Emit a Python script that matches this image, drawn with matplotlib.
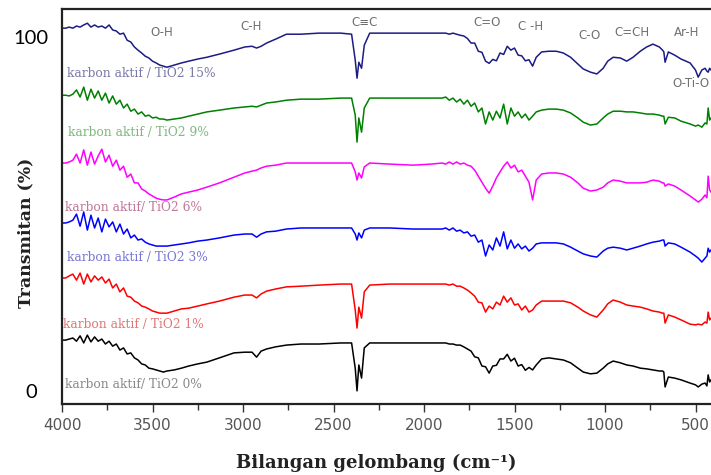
import matplotlib
matplotlib.use("Agg")
import matplotlib.pyplot as plt
from matplotlib.ticker import MultipleLocator
from matplotlib.transforms import blended_transform_factory

# ---------------- data ----------------
wavenumber = [4000, 3980, 3960, 3940, 3920, 3900, 3880, 3860, 3840, 3820, 3800, 3780, 3760, 3740,
              3720, 3700, 3680, 3660, 3640, 3620, 3600, 3580, 3560, 3540, 3520, 3500, 3480, 3460, 3440,
              3420, 3380, 3340, 3300, 3250, 3200, 3130, 3050, 2990, 2950, 2925, 2900, 2870, 2820, 2760,
              2680, 2580, 2460, 2400, 2380, 2370, 2360, 2345, 2330, 2300, 2190, 2060, 1960, 1900,
              1880, 1860, 1840, 1820, 1800, 1780, 1760, 1740, 1720, 1700, 1680, 1660, 1640, 1620, 1600,
              1580, 1560, 1540, 1520, 1500, 1480, 1460, 1440, 1420, 1400,
              1380, 1350, 1310, 1270, 1230, 1190, 1150, 1120, 1080, 1045, 1010, 985, 955, 915, 880, 845,
              805, 770, 735, 700, 682, 675, 668, 650, 615, 580, 530, 500, 485, 465, 447, 437, 430, 422, 414]

t_15 = [102.8, 102.8, 103.1, 102.8, 103.4, 103.1, 103.7, 104.2, 103.1, 103.7, 103.1, 103.4, 102.8, 103.7,
        102.3, 102.0, 101.1, 101.4, 99.4, 98.9, 97.5, 96.6, 95.8, 94.9, 94.4, 93.5, 93.0, 92.4, 92.1,
        91.8, 92.4, 93.0, 93.5, 94.1, 94.6, 95.5, 96.6, 97.5, 97.7, 97.2, 97.7, 98.6, 99.7, 101.1,
        101.1, 101.4, 101.4, 101.1, 93.8, 88.7, 93.2, 91.5, 98.0, 101.4, 101.4, 101.4, 101.4, 101.4,
        101.4, 101.1, 101.4, 101.1, 100.8, 100.6, 99.9, 98.6, 98.6, 96.3, 96.0, 93.5, 92.9, 94.0, 93.6,
        95.8, 95.4, 97.7, 96.6, 97.2, 95.2, 95.0, 93.6, 93.9, 92.1,
        94.6, 96.1, 96.3, 96.3, 95.8, 94.6, 92.7, 91.3, 90.4, 89.9, 91.5, 93.5, 94.6, 94.4, 93.5, 94.6,
        96.3, 97.5, 98.3, 97.5, 96.6, 96.1, 93.2, 96.1, 95.2, 94.1, 93.0, 91.0, 89.0, 91.0, 91.5, 90.7, 90.4, 91.5, 91.0]

t_9 = [83.9, 83.9, 83.7, 84.2, 85.4, 83.4, 86.2, 82.5, 85.6, 83.1, 85.1, 82.5, 84.5, 81.7,
       83.7, 81.4, 82.5, 80.3, 81.4, 79.4, 80.0, 78.6, 79.2, 78.0, 78.3, 77.5, 77.7, 77.2, 77.2,
       76.9, 77.2, 77.5, 78.0, 78.6, 79.2, 79.7, 80.3, 80.6, 80.8, 80.6, 81.1, 81.7, 82.0, 82.5,
       82.8, 82.8, 83.1, 83.1, 78.3, 70.7, 77.5, 73.5, 80.3, 83.1, 83.1, 83.1, 83.1, 83.1,
       83.4, 82.5, 83.1, 82.0, 82.8, 81.4, 82.5, 80.8, 81.7, 79.2, 80.3, 75.8, 79.2, 76.9, 79.4,
       77.5, 81.4, 75.8, 80.3, 78.0, 79.2, 77.5, 78.6, 76.9, 78.0,
       79.2, 79.7, 80.0, 80.0, 79.7, 78.9, 77.5, 76.3, 75.5, 75.8, 77.5, 78.6, 79.4, 79.4, 79.2, 79.2,
       78.9, 78.6, 78.6, 78.3, 78.0, 78.0, 75.8, 77.7, 77.5, 76.6, 75.8, 75.2, 75.5, 74.9, 76.1, 75.8, 80.3, 76.9, 77.5]

t_6 = [64.8, 64.8, 65.1, 65.6, 67.3, 64.8, 68.5, 64.2, 67.9, 64.5, 66.8, 68.7, 65.1, 67.0,
       63.9, 65.6, 62.8, 63.9, 60.8, 61.7, 59.2, 59.2, 57.5, 56.9, 56.1, 55.5, 54.9, 54.6, 54.4,
       54.4, 55.2, 56.1, 56.6, 57.2, 58.0, 59.2, 60.8, 62.0, 62.5, 62.8, 63.4, 63.9, 64.2, 64.8,
       64.8, 64.8, 64.8, 64.8, 62.3, 60.0, 62.0, 60.6, 63.7, 64.8, 64.5, 64.2, 64.5, 64.8,
       64.5, 65.1, 64.5, 65.1, 64.5, 64.8, 64.2, 63.9, 62.8, 61.1, 59.4, 57.7, 56.3, 58.3, 60.6,
       62.3, 63.9, 65.1, 63.4, 64.2, 62.3, 62.8, 61.1, 59.4, 54.4,
       60.0, 61.7, 62.0, 62.0, 61.7, 60.8, 59.2, 57.7, 56.9, 57.2, 58.0, 59.2, 60.0, 59.7, 59.2, 59.2,
       59.2, 59.4, 60.0, 59.7, 59.2, 59.2, 58.3, 58.9, 58.3, 57.2, 55.5, 54.4, 53.8, 54.6, 55.8, 55.0, 61.1, 57.2, 56.6]

t_3 = [47.9, 47.9, 48.2, 48.7, 50.4, 47.0, 51.0, 45.9, 50.1, 46.5, 49.3, 45.4, 49.0, 46.8,
       48.2, 45.4, 47.6, 44.8, 46.2, 43.7, 44.5, 43.1, 43.4, 42.5, 42.0, 41.7, 41.4, 41.4, 41.4,
       41.4, 41.7, 42.0, 42.3, 42.8, 43.1, 43.7, 44.5, 44.8, 44.8, 43.9, 44.8, 45.4, 45.6, 46.2,
       46.5, 46.5, 46.5, 46.5, 44.8, 43.1, 45.1, 43.7, 45.9, 46.5, 46.5, 46.2, 46.2, 46.2,
       46.5, 45.9, 46.5, 45.6, 45.9, 45.1, 45.4, 44.2, 44.5, 42.5, 43.1, 38.6, 41.7, 40.3, 43.7,
       41.4, 45.4, 40.6, 43.1, 40.8, 42.0, 40.6, 41.4, 40.0, 40.8,
       42.0, 42.3, 42.3, 42.3, 42.0, 41.1, 40.0, 39.2, 38.6, 38.3, 40.0, 40.8, 41.1, 40.8, 40.3, 40.8,
       41.4, 42.0, 42.5, 42.8, 43.1, 43.1, 41.4, 42.3, 42.0, 41.1, 39.7, 38.6, 38.0, 36.9, 38.0, 38.6, 40.8, 39.7, 40.3]

t_1 = [32.4, 32.4, 33.0, 33.5, 31.8, 33.8, 30.7, 33.5, 31.3, 33.0, 31.8, 32.7, 31.0, 32.1,
       29.6, 30.7, 28.5, 29.6, 27.3, 27.0, 25.9, 25.4, 24.5, 24.2, 23.7, 23.1, 22.8, 22.5, 22.5,
       22.5, 23.1, 23.7, 23.9, 24.5, 25.1, 25.9, 27.0, 27.6, 27.6, 26.8, 27.9, 28.7, 29.3, 29.9,
       30.1, 30.4, 30.7, 30.7, 23.4, 18.3, 24.2, 21.1, 28.5, 30.4, 30.7, 30.7, 30.7, 30.7,
       30.7, 30.4, 30.7, 30.1, 30.1, 29.6, 29.0, 28.2, 27.3, 25.6, 25.4, 22.8, 24.5, 23.7, 25.6,
       24.8, 27.3, 25.6, 26.8, 24.8, 25.1, 23.4, 24.5, 22.8, 23.4,
       24.8, 25.9, 25.9, 25.9, 25.9, 25.4, 24.2, 23.1, 22.0, 21.4, 23.4, 25.1, 26.2, 25.6, 24.8, 24.5,
       24.2, 23.7, 23.1, 22.8, 22.5, 22.5, 19.7, 22.0, 21.4, 20.6, 19.4, 19.2, 19.4, 19.2, 20.0, 19.7, 22.8, 20.6, 21.1]

t_0 = [14.9, 14.9, 15.2, 15.5, 14.6, 16.1, 14.1, 16.3, 14.4, 15.8, 14.6, 15.2, 13.8, 14.6,
       13.2, 13.8, 12.1, 12.7, 11.0, 11.3, 9.9, 9.3, 8.2, 7.9, 7.0, 6.8, 6.5, 6.2, 5.9,
       6.2, 6.5, 7.0, 7.6, 8.2, 8.7, 9.9, 11.3, 11.5, 11.5, 10.1, 11.8, 12.4, 13.0, 13.5,
       13.8, 13.8, 14.1, 14.1, 7.0, 0.6, 7.9, 4.2, 12.7, 14.1, 14.1, 14.1, 14.1, 14.1,
       14.1, 13.8, 13.8, 13.5, 13.5, 13.0, 12.4, 11.8, 10.2, 9.9, 7.6, 7.4, 5.6, 7.6, 7.8,
       9.6, 9.6, 10.9, 9.0, 9.8, 7.6, 8.0, 6.4, 7.2, 6.5,
       7.9, 9.6, 9.9, 9.6, 9.3, 8.5, 7.0, 5.9, 5.4, 5.6, 7.0, 8.2, 9.0, 8.5, 7.9, 7.6,
       7.0, 6.8, 6.5, 6.2, 6.2, 5.9, 1.7, 4.5, 4.2, 3.7, 2.8, 2.3, 1.7, 2.5, 2.8, 2.0, 5.1, 3.1, 3.7]

series_labels = ["karbon aktif / TiO2 15%", "karbon aktif / TiO2 9%", "karbon aktif/ TiO2 6%",
                 "karbon aktif / TiO2 3%", "karbon aktif / TiO2 1%", "karbon aktif/ TiO2 0%"]
band_labels = ["O-H", "C-H", "C\u2261C", "C=O", "C -H", "C-O", "C=CH", "Ar-H", "O-Ti-O"]
x_ticks = [4000, 3500, 3000, 2500, 2000, 1500, 1000, 500]
y_tick_labels = ["100", "0"]

# ---------------- styles / positions ----------------
series = [t_15, t_9, t_6, t_3, t_1, t_0]
line_colors = ["#1c1c84", "#008000", "#ff00ff", "#0000ff", "#ff0000", "#000000"]
label_colors = ["#7a7aa8", "#80b880", "#c07898", "#7878d8", "#e07878", "#8a8a8a"]
label_pos = [(3972, 90.1), (3967, 73.5), (3983, 52.4), (3972, 38.3), (3994, 19.2), (3983, 2.5)]
band_pos = [(3448, 101.7), (2956, 103.4), (2331, 104.5), (1652, 104.5), (1409, 103.4),
            (1083, 100.8), (851, 101.7), (547, 101.7), (420, 87.3)]

W, H = 711, 475
fig = plt.figure(figsize=(W / 100, H / 100), dpi=100)
ax = fig.add_axes([62 / W, 1 - 404 / H, (713.6 - 62) / W, (404 - 9) / H])

for vals, c in zip(series, line_colors):
    ax.plot(wavenumber, vals, color=c, lw=1.1)

ax.set_xlim(4000, 400)
ax.set_ylim(-3.1, 108.2)

ax.set_xticks(x_ticks)
ax.xaxis.set_minor_locator(MultipleLocator(250))
ax.tick_params(axis="x", which="major", direction="out", length=6, width=1.0,
               labelsize=11, labelcolor="#555555", color="#333333", pad=4)
ax.tick_params(axis="x", which="minor", direction="out", length=4, width=1.0, color="#333333")
for lab in ax.get_xticklabels():
    lab.set_family(["DejaVu Sans"])
ax.set_yticks([])

for s in ["left", "top", "bottom"]:
    ax.spines[s].set_linewidth(1.6)
    ax.spines[s].set_color("#222222")
ax.spines["right"].set_visible(False)

trans = blended_transform_factory(ax.transAxes, ax.transData)
for lab, yv in zip(y_tick_labels, [100, 0]):
    ax.text(-0.0476, yv, lab, transform=trans, ha="center", va="center",
            fontsize=14.5, family=["Lato", "DejaVu Sans"], color="black")

for lab, (xv, yv), c in zip(series_labels, label_pos, label_colors):
    ax.text(xv, yv, lab, ha="left", va="center", fontsize=8.8, color=c,
            family=["DejaVu Serif"])

for i, (lab, (xv, yv)) in enumerate(zip(band_labels, band_pos)):
    ax.text(xv, yv, lab, ha="center" if i < 8 else "right", va="center", fontsize=8.5,
            color="#707070", family=["DejaVu Sans"], clip_on=False)

fig.text(26 / W, 1 - 233 / H, "Transmitan (%)", rotation=90, ha="center", va="center",
         fontsize=12.5, fontweight="bold", color="#222222", family=["DejaVu Serif"])
fig.text(376 / W, 1 - 463 / H, "Bilangan gelombang (cm\u207b\u00b9)", ha="center", va="center",
         fontsize=13, fontweight="bold", color="#222222", family=["DejaVu Serif"])

fig.savefig("out.png", dpi=100)
